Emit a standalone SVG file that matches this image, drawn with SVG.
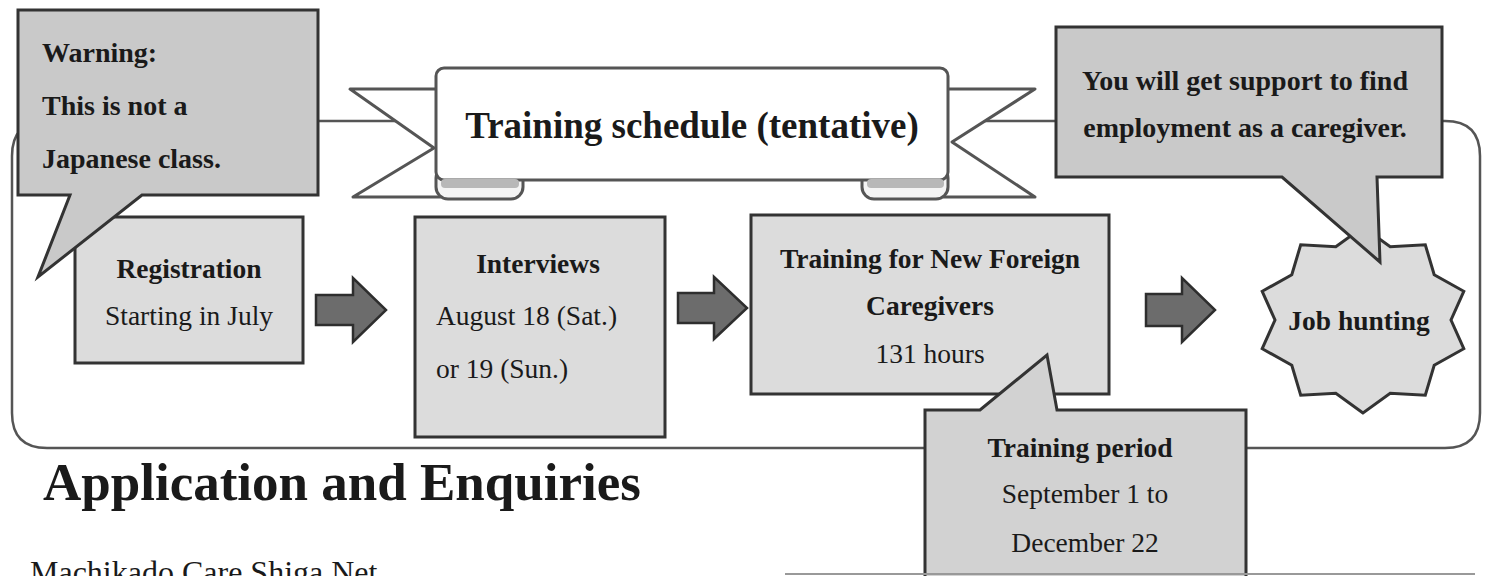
<svg xmlns="http://www.w3.org/2000/svg" width="1490" height="576" viewBox="0 0 1490 576">
<style>
.serif{font-family:"Liberation Serif","Times New Roman",serif;fill:#1a1a1a}
.b{font-weight:bold}
.box{fill:#dcdcdc;stroke:#333;stroke-width:3}
.call{fill:#c9c9c9;stroke:#333;stroke-width:3;stroke-linejoin:miter}
.arrow{fill:#6c6c6c;stroke:#2e2e2e;stroke-width:2.5;stroke-linejoin:miter}
.rib{fill:#fff;stroke:#555;stroke-width:3;stroke-linejoin:round}
.foot{fill:#f4f4f4;stroke:#555;stroke-width:3}
.roll{fill:#b8b8b8;stroke:none}
.t27{font-size:27.5px}
.t28{font-size:28px}
</style>
<rect width="1490" height="576" fill="#fff"/>
<g id="connectors">
  <path id="frame" d="M12,156 Q12,121 47,121 H1445 Q1480,121 1480,156 V413 Q1480,448 1445,448 H47 Q12,448 12,413 Z" fill="none" stroke="#555" stroke-width="2.5"/>
  <polygon class="arrow" points="316,295 353,295 353,278 386,310 353,342 353,325 316,325"/>
  <polygon class="arrow" points="678,293 714,293 714,277 747,308 714,339 714,323 678,323"/>
  <polygon class="arrow" points="1146,294 1182,294 1182,278 1215,310 1182,342 1182,326 1146,326"/>
</g>
<g id="banner">
  <polygon class="rib" points="350,89 440,89 440,197 353,197 434,148"/>
  <polygon class="rib" points="1035,89 944,89 944,197 1035,197 952,142"/>
  <rect class="foot" x="436" y="166" width="87" height="33" rx="12"/>
  <rect class="foot" x="862" y="166" width="86" height="33" rx="12"/>
  <rect x="436" y="68" width="512" height="112" rx="8" fill="#fff" stroke="#555" stroke-width="3"/>
  <rect class="roll" x="441" y="179" width="78" height="9" rx="4"/>
  <rect class="roll" x="867" y="179" width="77" height="9" rx="4"/>
  <text class="serif b" x="692" y="138" font-size="37" text-anchor="middle">Training schedule (tentative)</text>
</g>
<g id="registration">
  <rect class="box" x="75" y="217" width="228" height="146"/>
  <text class="serif b t27" x="189" y="278" text-anchor="middle">Registration</text>
  <text class="serif t27" x="189" y="325" text-anchor="middle">Starting in July</text>
</g>
<g id="warning">
  <path class="call" d="M18,10 H318 V195 H142 L38,277 L70,195 H18 Z"/>
  <text class="serif b t28" x="42" y="62">Warning:</text>
  <text class="serif b t28" x="42" y="115">This is not a</text>
  <text class="serif b t28" x="42" y="168">Japanese class.</text>
</g>
<g id="interviews">
  <rect class="box" x="415" y="217" width="250" height="220"/>
  <text class="serif b t27" x="538" y="273" text-anchor="middle">Interviews</text>
  <text class="serif t27" x="436" y="325">August 18 (Sat.)</text>
  <text class="serif t27" x="436" y="378">or 19 (Sun.)</text>
</g>
<g id="training">
  <rect class="box" x="751" y="215" width="358" height="179"/>
  <text class="serif b t27" x="930" y="268" text-anchor="middle">Training for New Foreign</text>
  <text class="serif b t27" x="930" y="315" text-anchor="middle">Caregivers</text>
  <text class="serif t27" x="930" y="363" text-anchor="middle">131 hours</text>
</g>
<g id="period">
  <path class="call" style="fill:#d2d2d2" d="M925,410 H980 L1047,355 L1057,410 H1246 V590 H925 Z"/>
  <text class="serif b t27" x="1080" y="457" text-anchor="middle">Training period</text>
  <text class="serif t27" x="1085" y="503" text-anchor="middle">September 1 to</text>
  <text class="serif t27" x="1085" y="552" text-anchor="middle">December 22</text>
</g>
<g id="jobhunting">
  <polygon class="box" points="1363,413 1335.8,393.2 1300.7,395.2 1291.8,365.3 1262.2,348.7 1275,320 1262.2,291.3 1291.8,274.7 1300.7,244.8 1335.8,246.8 1363,227 1390.2,246.8 1425.3,244.8 1434.2,274.7 1463.8,291.3 1451,320 1463.8,348.7 1434.2,365.3 1425.3,395.2 1390.2,393.2"/>
  <text class="serif b t27" x="1359" y="330" text-anchor="middle">Job hunting</text>
</g>
<g id="support">
  <path class="call" d="M1056,27 H1442 V177 H1377 L1380,262 L1282,177 H1056 Z"/>
  <text class="serif b t28" x="1245" y="90" text-anchor="middle">You will get support to find</text>
  <text class="serif b t28" x="1245" y="137" text-anchor="middle">employment as a caregiver.</text>
</g>
<g id="footer">
  <line x1="785" y1="574" x2="1475" y2="574" stroke="#999" stroke-width="2"/>
  <text class="serif b" x="43" y="500" font-size="53">Application and Enquiries</text>
  <text class="serif" x="30" y="583" font-size="32">Machikado Care Shiga Net</text>
</g>
</svg>
